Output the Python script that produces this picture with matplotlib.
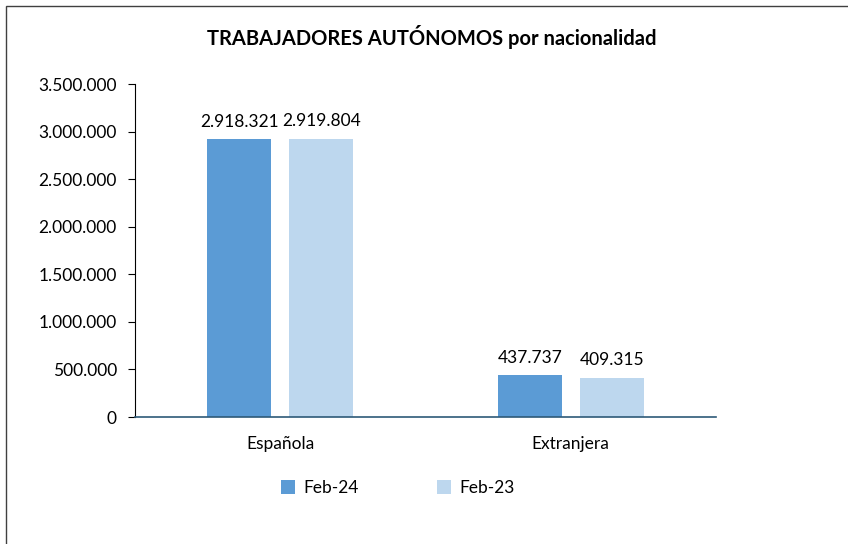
import matplotlib.pyplot as plt
import matplotlib.patches as patches
import numpy as np

categories = ['Española', 'Extranjera']
feb24 = [2918321, 437737]
feb23 = [2919804, 409315]
series_names = ['Feb-24', 'Feb-23']
yticks = [0, 500000, 1000000, 1500000, 2000000, 2500000, 3000000, 3500000]

def fmt(v):
    return f'{v:,.0f}'.replace(',', '.')

plt.rcParams['font.family'] = ['Lato', 'DejaVu Sans']

fig = plt.figure(figsize=(8.48, 5.44), dpi=100)
fig.patches.append(patches.Rectangle((6/848, -0.1), 1.1, 1 - 6/544 + 0.1,
                                     transform=fig.transFigure, fill=False,
                                     edgecolor='#404040', linewidth=1.0))

ax = fig.add_axes([135/848, 1 - 417/544, (716 - 135)/848, (417 - 84)/544])

x = np.arange(len(categories))
w = 0.22
off = 0.141
b1 = ax.bar(x - off, feb24, w, color='#5B9BD5', label=series_names[0])
b2 = ax.bar(x + off, feb23, w, color='#BDD7EE', label=series_names[1])

for bars, vals in [(b1, feb24), (b2, feb23)]:
    for rect, v in zip(bars, vals):
        ax.annotate(fmt(v), (rect.get_x() + rect.get_width() / 2, v),
                    xytext=(0, 7), textcoords='offset points',
                    ha='center', va='bottom', fontsize=12.5)

ax.set_xlim(-0.5, 1.5)
ax.set_ylim(0, 3500000)
ax.set_yticks(yticks)
ax.set_yticklabels([fmt(v) for v in yticks], fontsize=12.5)
ax.set_xticks(x)
ax.set_xticklabels(categories, fontsize=12.5)
ax.tick_params(axis='x', length=0, pad=14)
ax.tick_params(axis='y', direction='out', length=5, pad=8)

ax.spines['top'].set_visible(False)
ax.spines['right'].set_visible(False)
ax.spines['left'].set_color('black')
ax.spines['bottom'].set_color('#2E5A78')
ax.spines['bottom'].set_linewidth(1.2)

fig.text(432/848, 1 - 37/544, 'TRABAJADORES AUTÓNOMOS por nacionalidad',
         ha='center', va='center', fontsize=14.5, fontweight='bold')

fig.legend(loc='center', bbox_to_anchor=(398/848, 1 - 488/544), ncol=2,
           frameon=False, fontsize=12.5, handlelength=0.8, handleheight=0.8,
           columnspacing=4.5, handletextpad=0.5)

fig.savefig('out.png', dpi=100)
